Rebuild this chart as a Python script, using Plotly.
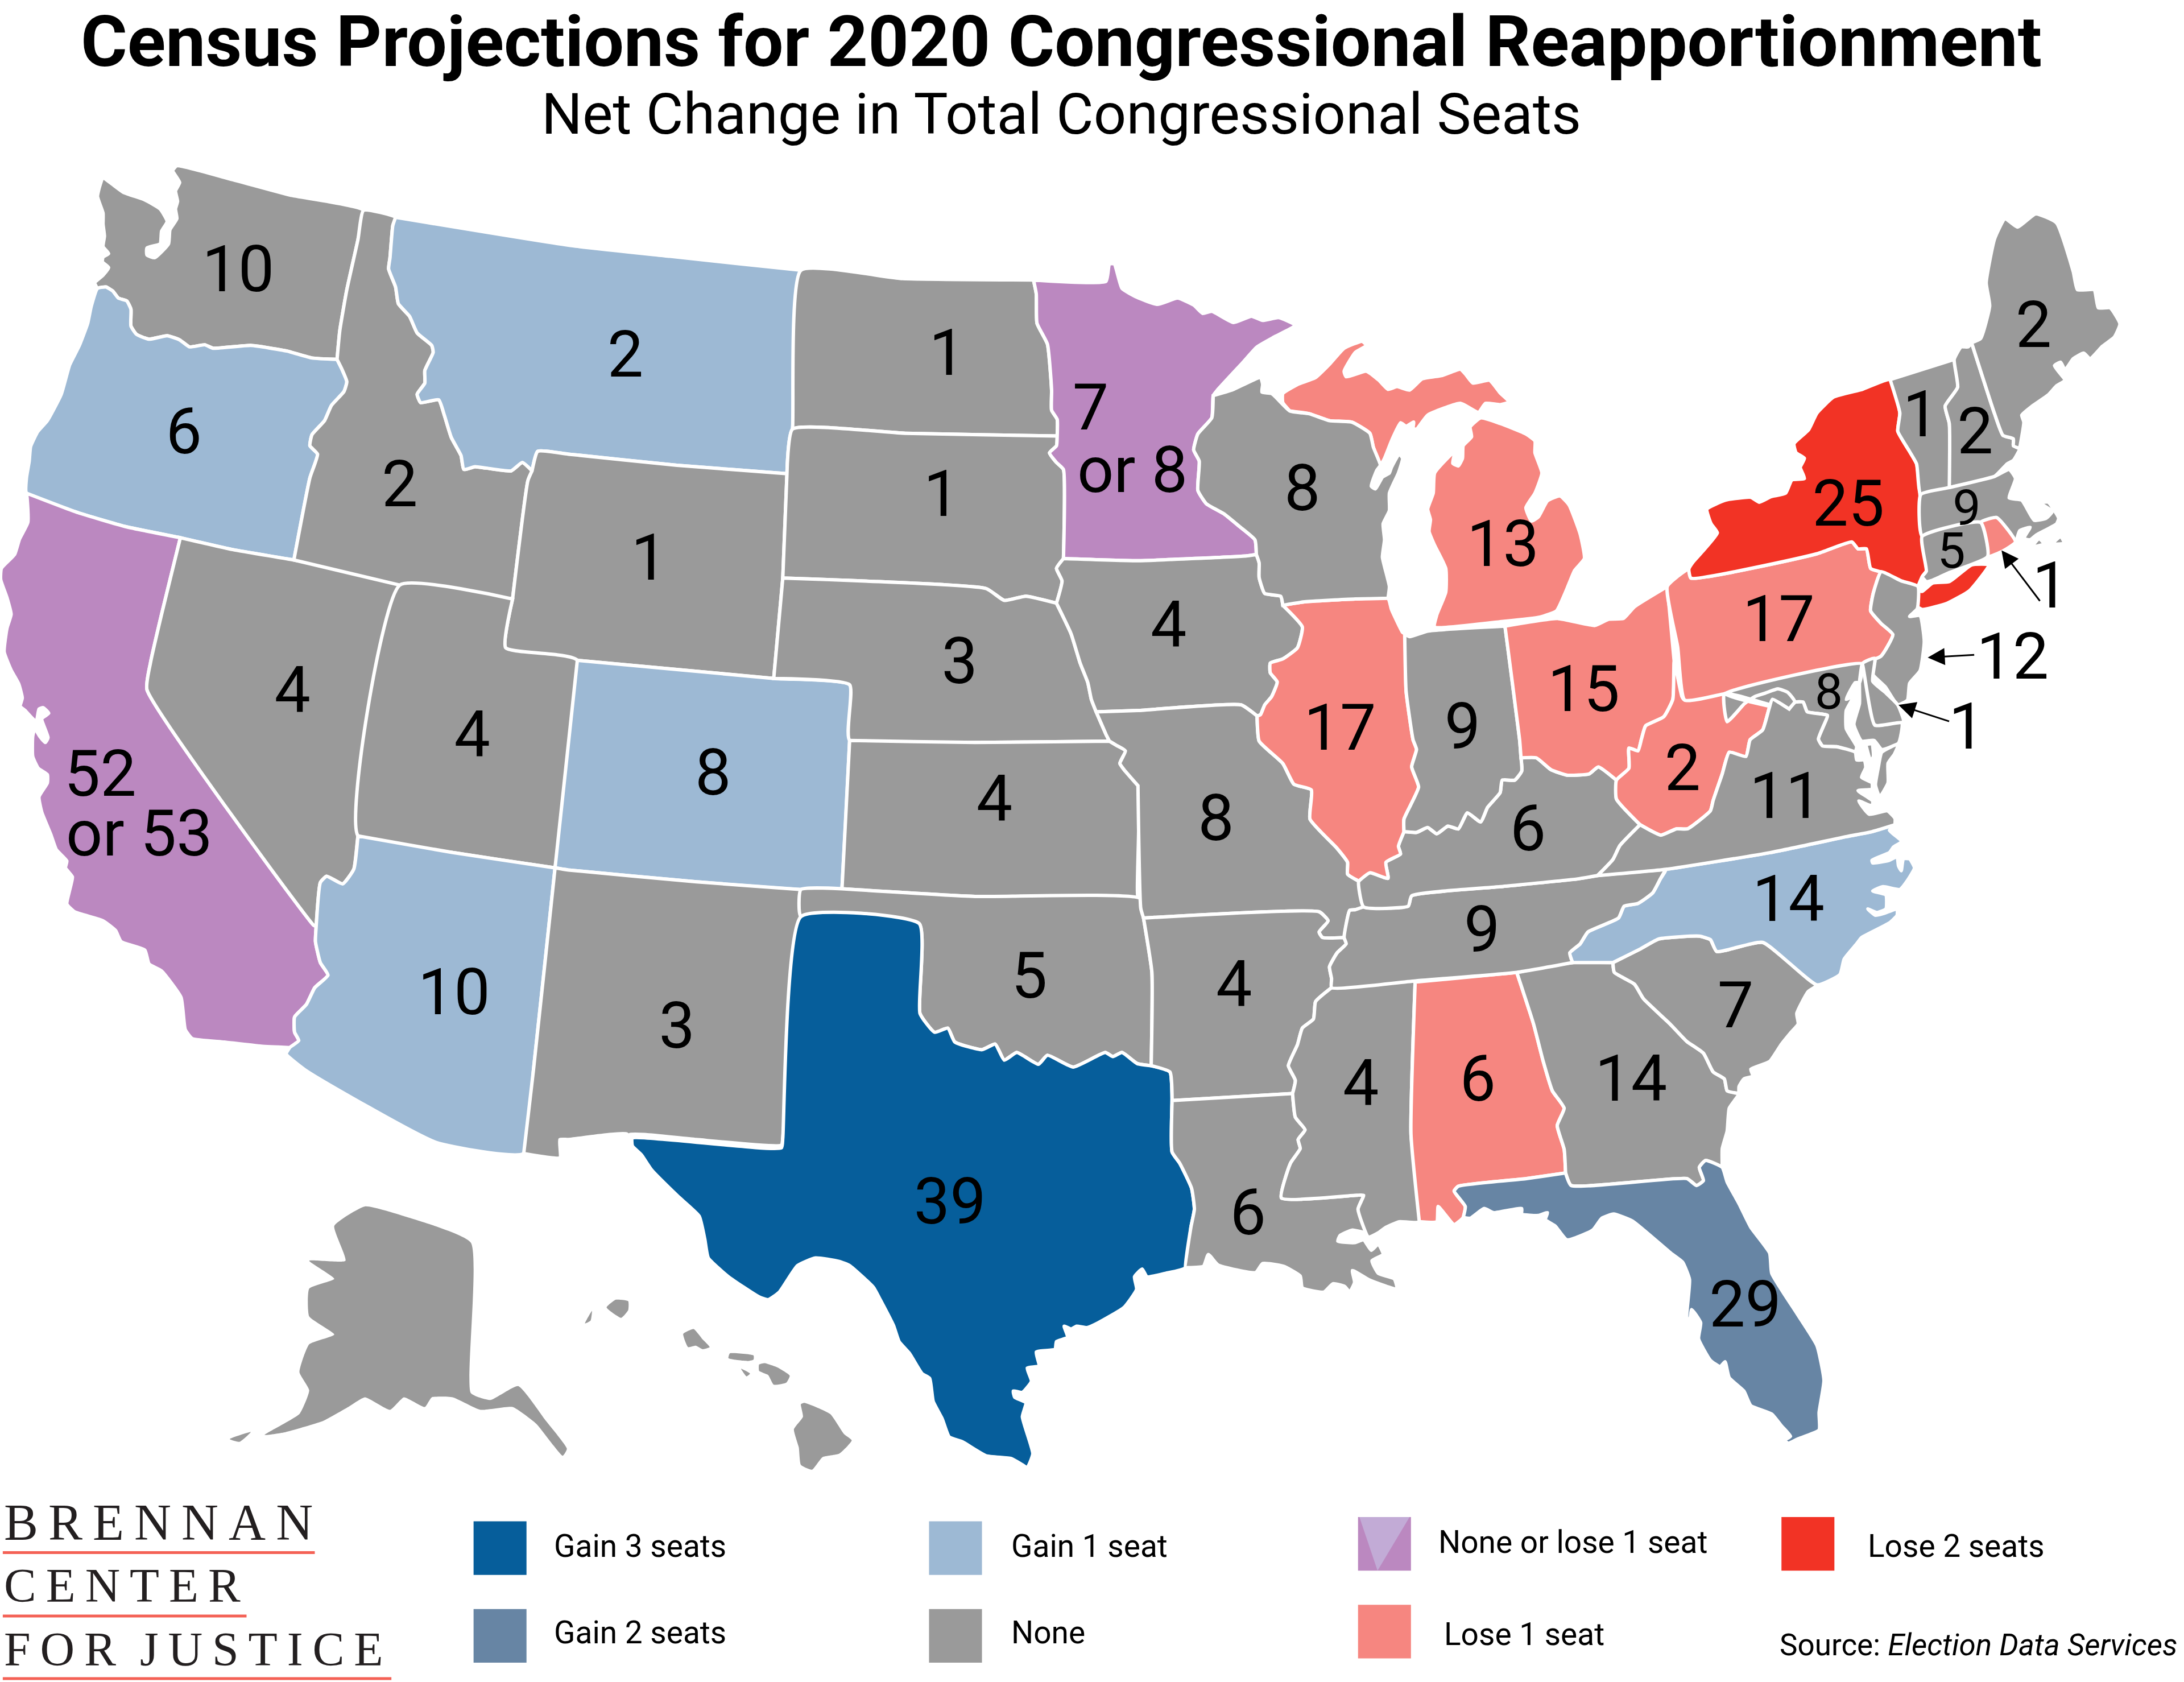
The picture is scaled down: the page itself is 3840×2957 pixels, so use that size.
import plotly.graph_objects as go

# ---------- data ----------
TITLE = "Census Projections for 2020 Congressional Reapportionment"
SUBTITLE = "Net Change in Total Congressional Seats"
CHANGE_NAMES = ["Gain 3 seats", "Gain 2 seats", "Gain 1 seat", "None", "None or lose 1 seat", "Lose 1 seat", "Lose 2 seats"]
CHANGE_COLORS = ["#065E9B", "#6785A4", "#9DB9D4", "#9A9A9A", "#BB88C0", "#F68680", "#F23325"]
GAIN3 = ["TX"]
GAIN2 = ["FL"]
GAIN1 = ["OR", "MT", "CO", "AZ", "NC"]
LOSE_MAYBE = ["CA", "MN"]
LOSE1 = ["MI", "IL", "OH", "WV", "PA", "AL", "RI"]
LOSE2 = ["NY"]

SEAT_TEXT = ["10", "6", "52", "or 53", "4", "2", "2", "1", "4", "10", "8", "3", "1", "1", "3", "4", "5", "39", "7", "or 8",
             "4", "8", "4", "6", "8", "17", "9", "13", "15", "6", "9", "4", "6", "14", "29", "7", "14", "11", "2", "17",
             "25", "2", "1", "2", "9", "5", "8", "1", "12", "1"]
SEAT_X = [171, 132, 72, 100, 210, 287, 449, 466, 339, 326, 512, 486, 680, 676, 689, 714, 739, 682, 783, 813,
          839, 873, 886, 896, 935, 962, 1050, 1079, 1137, 1097, 1064, 977, 1061, 1171, 1253, 1246, 1284, 1282, 1208, 1277,
          1327, 1460, 1379, 1418, 1412, 1401, 1313, 1472, 1445, 1412]
SEAT_Y = [194, 310, 556, 599, 496, 348, 255, 401, 528, 713, 555, 737, 254, 355, 475, 574, 701, 863, 293, 338,
          449, 588, 707, 871, 351, 523, 522, 391, 495, 595, 668, 778, 775, 775, 937, 722, 646, 572, 552, 445,
          362, 234, 298, 310, 364, 395, 496, 421, 472, 522]
SEAT_SIZE = [113] * 44 + [88, 88, 88] + [113, 113, 113]

# shared borders
WA_OR = [(70,207),(76,206),(81,209),(85,214),(91,216),(94,222),(94,234),(98,240),(107,243.5),(120,241),(129,244),(136,249),(147,247.5),(153,250),(180,248),(206,252),(224,257),(242,258)]
WA_ID = [(261,151),(257,172),(249,208),(244,237),(242,258)]
OR_ID = [(242,258),(245,264),(249,274),(247,281),(238,291),(233,302),(224,312),(222.5,320),(228,326),(222.5,343),(211,402)]
ID_MT = [(284,156),(282,162),(280,185),(279,193),(284,206),(286,218),(294,227),(299.5,239),(310,248),(311,253),(305,266),(305,275),(299.5,283),(302,289),(315,287),(319,298),(324,314),(331,327),(333,337),(341,335),(349,336),(367,338),(375,332),(382,338)]
ID_WY = [(382,338),(379,345),(368,430)]
CA_COAST = [(19,354),(19.5,358),(20,375),(14,387),(10.5,398),(1,408),(0.5,416),(5,429),(8,441),(5,451),(3,468),(8,481),(13.5,491),(16,501),(14.5,507),(18,510),(26,518),(28,509),(31,508),(35,512),(30,516),(34.5,529.5),(32.5,533),(28.5,528.5),(25,523),(23.5,528.5),(23.5,543),(27.5,551.5),(34,556),(34,562),(28,572),(30,583),(36.5,599),(40.5,610),(48,618),(47,623),(52,629.5),(50,639),(48,649),(53.5,654.5),(74,661),(83,668),(87,676),(104,682),(107,692),(116,697),(130,716),(133,739),(138,745.5),(161,748),(187.5,751),(208,752)]
AZ_CA = [(227,665),(226.5,676),(230,691),(235.5,700),(226,709),(220,721),(211.5,730),(211.5,741),(214.5,747),(208,752)]
AZ_NV = [(257,600),(254,624),(246,634.5),(234.5,629),(230,633.5),(227,665)]
CA_NV = [(129.5,386),(116,441),(108,476),(105.5,495),(225,664),(227,665)]
OR_CA = [(19,354),(56,368),(90,378),(129.5,386),(167,394.5),(211,402)]
NV_ID = [(211,402),(287,420)]
UT_ID = [(287,420),(368,430)]
WY_UT = [(368,430),(363,465),(414.5,474)]
MT_S = [(382,338),(386,324),(408,326),(486,334),(565,340)]
MT_ND = [(575,194),(569,308),(565,340)]
WY_SD = [(565,340),(562,415)]
WY_NE = [(562,415),(555.5,487)]
WY_CO = [(414.5,474),(555.5,487)]
ND_MN = [(742,201),(744,211),(744.5,232),(752,247),(755,280),(755,294.5),(759,301),(759,313)]
SD_MN = [(759,313),(758.5,320),(753.5,325),(758.5,332),(763.5,337),(763.5,401)]
ND_SD = [(569,308),(650,311),(759,313)]
SD_IA = [(763.5,401),(758.5,408),(762.5,417),(758.5,433)]
SD_NE = [(562,415),(708,422.5),(721,431),(736.5,428),(758.5,433)]
NE_IA = [(758.5,433),(769,455),(775.5,476),(781,490),(783.5,502),(787,511)]
NE_MO = [(787,511),(794,527),(796.5,532)]
NE_KS = [(610,531.5),(700,533),(796.5,532)]
KS_MO = [(796.5,532),(801.5,535),(808,539),(804,548),(807,552.5),(817,564)]
MO_W = [(817,564),(819,652),(821,659)]
KS_OK = [(604.5,638),(700,643.5),(819,645)]
CO_E = [(610,491.5),(610,531.5),(604.5,638)]
CO_S = [(398.5,623),(408,624.5),(500,633),(575,638.5),(604.5,638)]
AZ_UT = [(257,600),(325,612),(398.5,623)]
UT_CO = [(414.5,474),(398.5,623)]
AZ_NM = [(398.5,623),(383,768),(376,828)]
OK_TX = [(575,658),(660,663),(660.5,727.5),(671,741),(680.5,738),(685.5,748),(705,753.5),(714.5,749.5),(721,761),(730,755.5),(745.5,764),(752,757.5),(770.5,766),(793.5,755.5),(799,758.5),(805.5,755.5),(816.5,763.5),(826.5,765)]
NM_TX = [(575,638.5),(576,650),(575,658),(562,817),(561,822),(500,818),(464,814.5),(452,814.5),(450,821)]
OK_AR = [(821,659),(827,698),(826.5,765)]
AR_TX = [(826.5,765),(840,769.5),(841.5,790)]
LA_TX = [(841.5,790),(841.5,827),(847,835),(855.5,853),(857.5,868),(855,881),(851,910)]
MO_AR = [(821,659),(947,654.5),(953.5,661),(947,669),(949.5,673),(965,673)]
MO_IL = [(902.5,514),(904,532),(921,548),(929,563),(941.5,567),(940.5,588),(960,609),(967.5,619),(967.5,627.5),(975.5,632.5)]
MO_KY_TN = [(975.5,632.5),(979,634),(979,651),(973,653),(969,653.5),(965,673)]
IA_MO = [(787,511),(817,510),(891,506),(902.5,514)]
IA_MN = [(763.5,401),(817,402.5),(895,399),(902,398)]
MN_WI = [(871,284),(870,300),(860,311.5),(857,323),(861,331),(860,352),(866,361.5),(879,369),(890,378),(901,387.5),(902,398)]
IA_WI = [(902,398),(904,404),(904,414.5),(908,426),(919.5,428),(921,434.5)]
IA_IL = [(921,434.5),(935,450),(931.5,465),(921,473),(912,476),(912,483),(917,489.5),(913,500),(908,506),(905,513),(902.5,514)]
WI_IL = [(921,434.5),(936.5,432),(973,430),(996.5,429.5)]
WI_MI = [(906,281.5),(913,282.5),(926,295),(940,297),(954.5,302),(970.5,303),(983.5,311),(986,321),(991,334)]
IL_IN = [(1008.5,455),(1009.5,496),(1014.5,531),(1017,538),(1013.5,550.5),(1018.5,565),(1008,588),(1008,597)]
KY_N = [(1008,597),(1017,597.5),(1025,594),(1031.5,598.5),(1039.5,593),(1047,595),(1053.5,583.5),(1063,590),(1068,579.5),(1077,569),(1078.5,560),(1087.5,560),(1092.5,553.5),(1092,544)]
IL_KY = [(1008,597),(1004,607.5),(1005.5,613),(995,619),(996.5,630.5),(983.5,626.5),(975.5,632.5)]
IN_OH = [(1080.5,449.5),(1091,531),(1092,544)]
OH_KY = [(1092,544),(1103,544),(1113.5,552.5),(1125.5,556.5),(1141,555.5),(1147.5,550.5),(1160.5,560)]
OH_WV = [(1160.5,560),(1169.5,551.5),(1169.5,537),(1176,539),(1178.5,530.5),(1181.5,521),(1194.5,514.5),(1201,502),(1202,475)]
OH_PA = [(1197,421),(1202,475)]
KY_WV = [(1160.5,560),(1160.5,573.5),(1177.5,592)]
KY_VA = [(1177.5,592),(1163,607),(1158,617),(1147,628.5)]
KY_TN = [(1147,628.5),(1132,631),(1077,636.5),(1013.5,643),(1011,650.5),(979,651)]
VA_WV = [(1177.5,592),(1192.5,599.5),(1203.5,595),(1211.5,595),(1228,582),(1230,574.5),(1236.5,555.5),(1241.5,540),(1253.5,543),(1256.5,531),(1265.5,524),(1270,509),(1272.5,502),(1284.5,509)]
MD_WV = [(1284.5,509),(1288.5,503.5),(1283.5,497),(1276.5,494.5),(1267.5,497.5),(1260,500),(1252.5,505),(1240,518),(1238,498)]
MD_VA = [(1284.5,509),(1289,504),(1294.5,504),(1297.5,511),(1307.5,512.5),(1312,513.5),(1305.5,530.5),(1308.5,535.5),(1318.5,536),(1332,540)]
PA_S = [(1209.5,502.5),(1238,498),(1337,476.5)]
NY_PA = [(1214,415),(1304.5,397.5),(1329.5,389),(1334,394),(1340,394),(1343,408),(1350.5,410.5)]
PA_NJ = [(1350.5,410.5),(1345,425.5),(1343,438.5),(1350.5,447.5),(1359,455.5),(1350.5,471),(1337,476.5)]
NY_NJ = [(1350.5,410.5),(1365,417),(1377,421)]
NY_VT = [(1357,272.5),(1364,296.5),(1362.5,309.5),(1370,322.5),(1376,333),(1378.5,356)]
NY_MA = [(1378.5,356),(1380,385)]
NY_CT = [(1380,385),(1383,410),(1380,414)]
VT_NH = [(1403,258),(1405.5,278),(1396.5,291.5),(1399.5,304),(1399.5,350)]
NH_ME = [(1415.5,246),(1432,297),(1438,312.5),(1445.5,315),(1445.5,320),(1450,322)]
VA_NC = [(1147,628.5),(1196,624),(1271,612),(1326,600.5),(1344,597),(1360.5,592)]
TN_NC = [(1129,691),(1127,684),(1134.5,677.5),(1140,669),(1162,659),(1166,650.5),(1176,648.5),(1186.5,641),(1192,631),(1196,624)]
TN_S = [(956,709),(1017,704),(1089,698),(1129,691),(1158,691)]
AR_TN = [(965,673),(966.5,677.5),(960,684),(954.5,694),(956,702.5),(956,709)]
AR_MS = [(956,709),(944.5,719),(943,731.5),(935,738),(931.5,750),(925,765),(930,775.5),(928,785)]
AR_LA = [(841.5,790),(928,785)]
LA_MS = [(928,785),(930,802),(937,811),(932,818),(933.5,824.5),(926.5,835),(920,860),(974,858),(979,858),(975,868),(982.5,885)]
MS_AL = [(1016,705),(1013,814),(1019,877)]
AL_GA = [(1089,698),(1101,735),(1108,762),(1114.5,783),(1123,795.5),(1118,808),(1123,825),(1124,842)]
AL_FL = [(1124,842),(1096,846),(1047,851.5),(1044,855),(1052,866),(1050.5,874)]
GA_FL = [(1124,842),(1128,851),(1211,846),(1218,851),(1223,847.5),(1220,838),(1224.5,833),(1236.5,838)]
NC_SC = [(1158,691),(1178,681),(1191,674),(1220,672),(1228,674.5),(1232.5,683),(1265.5,676.5),(1304.5,707)]
GA_SC = [(1158,691),(1159,698),(1173.5,706.5),(1180,717),(1199,735),(1211,747.5),(1223,756),(1230,769.5),(1238,774.5),(1240,783),(1248.5,785)]

def rev(seg):
    return seg[::-1]

WA = [(74,128),(88.5,138),(104,143.5),(115,150),(120,159),(116,166),(115,175),(105.5,178),(105.5,183),(111,185),(121,175),(122,165),(127,157),(126,150),(127.5,144.5),(126,137),(129,131),(124,122.5),(127,119),(167,129),(208,140)] + WA_ID + rev(WA_OR) + [(69,205.5),(68,203),(74,197.5),(78,192),(73.5,188),(74,184.5),(78,182),(74,177),(75,169.5),(74,161),(74,153),(70,141),(71.5,134)]
OR = WA_OR + OR_ID + rev(OR_CA) + [(19,343),(21,331),(22,320.5),(27,310),(34,302),(44,283),(50,262),(57,248),(63,232),(65.5,220)]
CA = OR_CA[:4] + CA_NV + AZ_CA[:-1] + [(208,752)] + rev(CA_COAST)
NV = OR_CA[3:] + NV_ID + [(285,441)] + AZ_NV + rev(CA_NV)
ID = WA_ID[:1] + ID_MT + ID_WY + rev(UT_ID) + rev(NV_ID) + rev(OR_ID) + rev(WA_ID)[:-1]
MT = [(284,156),(408,176),(481,184),(575,194)] + MT_ND + rev(MT_S) + rev(ID_MT)
WY = MT_S + WY_SD + WY_NE + rev(WY_CO) + rev(WY_UT) + rev(ID_WY)
UT = UT_ID + WY_UT + UT_CO[1:] + rev(AZ_UT)
CO = WY_CO + CO_E + rev(CO_S) + rev(UT_CO)
AZ = AZ_UT + AZ_NM + [(313,820),(219,768),(205.5,756.5)] + rev(AZ_CA) + rev(AZ_NV)
NM = CO_S[:4] + NM_TX + [(450,814),(408,818),(402,818),(402,831),(376,828)] + rev(AZ_NM)
ND = [(575,194),(648,200),(742,201)] + ND_MN + rev(ND_SD) + rev(MT_ND)[:-1]
SD = ND_SD + SD_MN + SD_IA + rev(SD_NE) + rev(WY_SD) + [(565,340)]
NE = SD_NE + NE_IA + NE_MO + rev(NE_KS) + [(610,491.5),(555.5,487)] + rev(WY_NE)
KS = NE_KS + KS_MO + [(817,645)] + rev(KS_OK) + rev(CO_E)[:2]
OK = [(575,638.5),(604.5,638)] + KS_OK + OK_AR + rev(OK_TX)
TX = OK_TX + AR_TX + LA_TX + [(837,914),(823.5,916.5),(820,911),(814.5,916.5),(816,925.5),(807,938.5),(788.5,949.5),(780.5,953),(773,952),(769,954),(764,952),(766.5,960),(758.5,963),(757.5,968.5),(744,970.5),(746,980.5),(737.5,982),(740.5,991.5),(734,999.5),(727.5,998.5),(728.5,1003),(736.5,1007),(734,1017),(741.5,1043.5),(737.5,1053.5),(734,1051.5),(726,1047),(708,1045),(691,1035),(681.5,1031.5),(676.5,1018.5),(670,1006),(667.5,989.5),(662,986),(653,971.5),(645.5,963),(641.5,951.5),(632,933),(627,924),(610,908.5),(602.5,905.5),(585.5,903),(572.5,908.5),(559.5,927.5),(551.5,933),(545,931),(523,916.5),(508.5,903),(506,889.5),(502,873),(486.5,858.5),(468,840),(460.5,829),(454,822.5),(454,817),(561,824),(562,817)]
MN = [(742,201),(794,202),(796.5,189.5),(800,189.5),(805.5,207),(816.5,213.5),(831,218.5),(845.5,214),(857,219),(863.5,225),(870,223.5),(885.5,231.5),(898.5,227),(906.5,230),(918,228),(930,233.5),(915.5,241.5),(902.5,249),(892,260.5),(874,280)] + MN_WI + rev(IA_MN) + rev(SD_MN) + rev(ND_MN)
IA = IA_MN + IA_WI + IA_IL + rev(IA_MO) + rev(NE_IA) + rev(SD_IA)
MO = IA_MO + MO_IL + MO_KY_TN + rev(MO_AR) + rev(MO_W) + rev(KS_MO) + rev(NE_MO)
AR = MO_AR + AR_TN + AR_MS + rev(AR_LA) + rev(AR_TX) + rev(OK_AR)
LA = AR_LA + LA_MS + [(971,883),(962,887),(960.5,891),(972.5,892),(979,890),(984.5,897.5),(989.5,893),(993,900.5),(985,905),(989.5,914),(1001,918),(1003,925.5),(993,922.5),(982.5,918.5),(971,912),(972.5,920.5),(969,927.5),(965.5,923.5),(957,921.5),(950.5,927.5),(935,924.5),(933.5,916),(921.5,909),(906.5,907),(901.5,913.5),(874.5,908),(867.5,900.5),(864,909),(852,910)] + rev(LA_TX)
MS = TN_S[:2] + [(1016,705)] + MS_AL + [(1004.5,877),(995,881),(989.5,885),(982.5,888)] + rev(LA_MS)[1:] + rev(AR_MS)
AL = [(1016,705),(1089,698)] + AL_GA + AL_FL + [(1044,879),(1036.5,870.5),(1032.5,866),(1031.5,877),(1019,877)] + rev(MS_AL)
GA = [(1089,698),(1129,691),(1158,691)] + GA_SC + [(1241.5,795.5),(1240,812),(1236.5,824.5),(1236.5,838)] + rev(GA_FL) + rev(AL_GA)
FL = GA_FL + [(1240,848.5),(1248.5,864),(1257,881),(1270.5,899.5),(1272,914),(1290.5,943.5),(1304.5,966),(1309.5,991),(1306,1014),(1306,1026.5),(1290.5,1033),(1284,1036),(1281,1034),(1285.5,1031),(1279,1023.5),(1272,1015),(1257,1009),(1252,998.5),(1241.5,989),(1238.5,977.5),(1235,981),(1228,976.5),(1219.5,961),(1221,949.5),(1214.5,940),(1213,949.5),(1211,945.5),(1213,918.5),(1208,906),(1199.5,899.5),(1172,876.5),(1158.5,871.5),(1150,874.5),(1143.5,883),(1125,890),(1116.5,880),(1109.5,875.5),(1111,870.5),(1104.5,872.5),(1092.5,871.5),(1092.5,867.5),(1072.5,870.5),(1065.5,867.5),(1055.5,874.5),(1050.5,874)] + rev(AL_FL)
SC = NC_SC + [(1298,712),(1290,727.5),(1291,735),(1285.5,741.5),(1279,749.5),(1270.5,762),(1257,767.5),(1258.5,772.5),(1252,774.5),(1248.5,780),(1248.5,785)] + rev(GA_SC)
NC = rev(TN_NC) + TN_S[3:] + NC_SC + [(1321,699.5),(1324,688.5),(1333,677.5),(1336.5,673),(1356.5,662.5),(1362,657),(1362,652.5),(1353,655.5),(1346.5,657),(1341,652.5),(1347.5,655),(1354,652.5),(1354,642.5),(1344.5,639.5),(1352,636.5),(1364,638.5),(1369.5,632),(1374.5,623),(1371,616.5),(1366.5,616.5),(1365,625),(1363,621.5),(1362,615),(1356.5,617.5),(1344.5,619.5),(1344,617.5),(1356.5,612),(1359.5,608),(1365.5,604),(1356.5,596)] + rev(VA_NC)
TN = [(979,651),(1011,650.5),(1013.5,643),(1077,636.5),(1132,631),(1147,628.5),(1196,624)] + rev(TN_NC) + rev(TN_S)[1:] + rev(AR_TN)[1:] + [(969,653.5),(973,653)]
KY = KY_N + OH_KY + KY_WV + KY_VA + KY_TN + rev(IL_KY)
IL = [(921,434.5),(936.5,432),(973,430),(996.5,429.5),(999,437.5),(1007,454)] + IL_IN + IL_KY + rev(MO_IL) + rev(IA_IL)
IN = [(1008.5,455),(1012,457),(1025,453),(1080.5,449.5)] + IN_OH + rev(KY_N) + rev(IL_IN)
OH = [(1080.5,449.5),(1118.5,444),(1145,449),(1155,444.5),(1165.5,444),(1173.5,435.5),(1197,421)] + OH_PA + rev(OH_WV) + rev(OH_KY) + rev(IN_OH)
WV = [(1202,475),(1207.5,500),(1209.5,502.5),(1238,498)] + rev(MD_WV) + rev(VA_WV) + rev(KY_WV) + OH_WV[1:-1]
PA = [(1197,421),(1212.5,408.5)] + NY_PA + PA_NJ + rev(PA_S) + [(1204.5,464.5)]
NY_MAIN = rev(NY_PA) + [(1212.5,408.5),(1215.5,403.5),(1224,394),(1233,382.5),(1228.5,376),(1225.5,365.5),(1239,359),(1257,357),(1263,360.5),(1271.5,356.5),(1282,354),(1286.5,344.5),(1295.5,343.5),(1292.5,335.5),(1295.5,329),(1289.5,325),(1288,318.5),(1298.5,308.5),(1304.5,296.5),(1316.5,285),(1337,279.5)] + NY_VT + NY_MA + NY_CT + [(1377,421)] + rev(NY_NJ)
LONG_ISLAND = [(1380,424.5),(1387.5,418.5),(1399.5,417.5),(1415.5,405.5),(1428,405.5),(1414,424),(1398,433),(1380,437.5),(1376,435),(1376,424)]
NJ = NY_NJ + [(1376.5,437),(1371,442.5),(1378.5,442),(1381.5,460.5),(1378.5,481.5),(1371,490.5),(1369.5,502.5),(1362.5,506),(1353.5,493),(1344.5,484),(1346,473.5),(1337,476.5)] + rev(PA_NJ)[1:-1]
DE = [(1337,476.5),(1346,472.5),(1344.5,489),(1353.5,497),(1362.5,506),(1366.5,518),(1346,520.5)]
MD_MAIN = rev(MD_WV) + [(1238,498),(1337,476.5),(1335,490),(1332,490),(1325.5,502),(1331,499.5),(1325.5,510),(1325.5,523),(1333,536),(1332,540)] + rev(MD_VA)
MD_SHORE = [(1337,476.5),(1346,520.5),(1365.5,519),(1363,533.5),(1351,538),(1345.5,531.5),(1336.5,532),(1331,520),(1335,505),(1335,490)]
VA_MAIN = [(1147,628.5),(1158,617),(1163,607),(1177.5,592)] + VA_WV + MD_VA + [(1333,545.5),(1338.5,545.5),(1339.5,551),(1336.5,558),(1344,562),(1344,566.5),(1334,567.5),(1344.5,575),(1344,578.5),(1334.5,575),(1342,584.5),(1355,582),(1360.5,587.5),(1360.5,592)] + rev(VA_NC)
VA_SHORE = [(1363,534),(1360,541.5),(1355.5,548),(1355.5,562),(1349.5,572),(1346.5,563.5),(1348.5,551),(1351,540)]
VA_ISLE = [(1340,534.5),(1344,534),(1345,543),(1343,546)]
VT = [(1357,272.5),(1403,258)] + VT_NH + [(1379,355)] + rev(NY_VT)[1:]
NH = [(1408,249),(1413,249),(1415.5,246)] + NH_ME + [(1445.5,330.5),(1441,333),(1432,342),(1399.5,350)] + rev(VT_NH)
ME = [(1415.5,246),(1422,243),(1428.5,219.5),(1426,203),(1432,171.5),(1439.5,157),(1448.5,163),(1461.5,153.5),(1476.5,160),(1488.5,195),(1491.5,208),(1503.5,208),(1506.5,221),(1515,221),(1522,232.5),(1518,242),(1509.5,248.5),(1500.5,257.5),(1496,253.5),(1488.5,257.5),(1482.5,265.5),(1479.5,260),(1475,262.5),(1482.5,273),(1476.5,277),(1470.5,283.5),(1459,291.5),(1451.5,298),(1453,303),(1450,322)] + rev(NH_ME)
MA = [(1379,355),(1399.5,350),(1432,342),(1442.5,337),(1447,343.5),(1442.5,357.5),(1451.5,359),(1460.5,373.5),(1469,372),(1473.5,367),(1464.5,361),(1470.5,360.5),(1478,372),(1476.5,376),(1462,384),(1457.5,387.5),(1453,386.5),(1457.5,378.5),(1450,381),(1447,389),(1433.5,371.5),(1422,375),(1380,385)]
MA_ISLE1 = [(1459,392.5),(1464,386.5),(1467.5,390.5)]
MA_ISLE2 = [(1473.5,390.5),(1479.5,385),(1482,390)]
RI = [(1422,375),(1433.5,371.5),(1447,389),(1438,395.5),(1427,399.5)]
CT = [(1380,385),(1422,375),(1427,399.5),(1399.5,411),(1387.5,416.5),(1383,417.5),(1380,414),(1383,410)]
MI_UP = [(921,282.5),(931.5,276),(944.5,271),(954.5,261.5),(965,250),(978,245),(981,248),(973,253),(965,266.5),(966.5,270.5),(981,266.5),(990,273),(996.5,279.5),(1003,277.5),(1012,280),(1021,272),(1035.5,269.5),(1048.5,265),(1052.5,269),(1057.5,275),(1069.5,273),(1077,282),(1083.5,288.5),(1077,290.5),(1066.5,289.5),(1061.5,296),(1048.5,289.5),(1025,298),(1017,308),(1014.5,307.5),(1015,303),(1009.5,306),(1005.5,303.5),(999,316.5),(994,329),(991,334)] + rev(WI_MI)[1:-2] + [(926,295),(921,289)]
MI_LP = [(1063,300),(1077,304),(1095.5,311.5),(1102,316.5),(1102,325),(1107,339.5),(1102,354),(1095.5,364.5),(1099.5,374),(1104.5,371),(1111,359.5),(1120,356),(1126.5,362.5),(1134.5,383.5),(1137.5,401),(1130.5,409.5),(1124,425),(1117.5,438.5),(1105.5,443),(1080,446),(1030,450),(1031.5,441.5),(1038,425),(1038,408),(1030,391.5),(1026,381.5),(1027,373),(1025,365.5),(1029,354),(1030,339.5),(1044.5,324),(1043,332.5),(1047,334.5),(1050,329),(1050.5,320),(1056.5,313.5),(1055.5,306.5)]
WI = [(871,284),(884.5,280),(905,271),(906.5,276)] + WI_MI + [(988.5,337.5),(984.5,349),(987.5,351),(992.5,342.5),(997.5,339.5),(999,335.5),(1004.5,326),(1007,329),(1004,339.5),(997.5,354),(997.5,366.5),(993,376),(994,387.5),(992.5,400),(997.5,421),(996.5,429.5)] + rev(WI_IL) + rev(IA_WI) + rev(MN_WI)
AK = [(240,880),(262,866),(290,873),(338,892),(338,1000),(352,1005),(372,995),(392,1020),(407,1040),(404,1045),(385,1022),(368,1010),(345,1012),(325,1003),(310,1003),(305,1010),(290,1003),(280,1012),(262,1003),(250,1010),(232,1020),(205,1028),(190,1030),(215,1015),(222,998),(215,985),(222,965),(240,958),(222,945),(222,925),(240,918),(222,905),(248,905)]
AK_ISLE = [(165,1033),(180,1028),(172,1035)]
HI_NIIHAU = [(420,950),(425,941),(424,948)]
HI_KAUAI = [(435.5,938.5),(442,933),(451,934),(451,940.5),(446,946)]
HI_OAHU = [(490.5,957.5),(498,954),(504.5,961.5),(509.5,967),(504.5,968.5),(499.5,966),(494,967)]
HI_MOLOKAI = [(524,971.5),(541,973),(541,976),(537,977),(523,975)]
HI_LANAI = [(532,982.5),(538.5,986),(536,988)]
HI_MAUI = [(545,979.5),(549,978.5),(558,981.5),(567,987.5),(564.5,992.5),(555.5,994),(551.5,987),(545,984)]
HI_BIG = [(575,1008),(577.5,1007),(596,1015),(606,1029.5),(611.5,1034),(602.5,1043.5),(590.5,1046),(583,1055),(575,1051.5),(573.5,1039),(570,1026),(576.5,1017)]

STATE_RINGS = {
    "WA": [WA], "OR": [OR], "CA": [CA], "NV": [NV], "ID": [ID], "MT": [MT], "WY": [WY], "UT": [UT], "CO": [CO], "AZ": [AZ], "NM": [NM],
    "ND": [ND], "SD": [SD], "NE": [NE], "KS": [KS], "OK": [OK], "TX": [TX], "MN": [MN], "IA": [IA], "MO": [MO], "AR": [AR], "LA": [LA],
    "MS": [MS], "AL": [AL], "GA": [GA], "FL": [FL], "SC": [SC], "NC": [NC], "TN": [TN], "KY": [KY], "IL": [IL], "IN": [IN], "OH": [OH],
    "WV": [WV], "PA": [PA], "NY": [NY_MAIN, LONG_ISLAND], "NJ": [NJ], "DE": [DE], "MD": [MD_MAIN, MD_SHORE], "VA": [VA_MAIN, VA_SHORE, VA_ISLE],
    "VT": [VT], "NH": [NH], "ME": [ME], "MA": [MA, MA_ISLE1, MA_ISLE2], "RI": [RI], "CT": [CT], "MI": [MI_UP, MI_LP], "WI": [WI],
    "AK": [AK, AK_ISLE], "HI": [HI_NIIHAU, HI_KAUAI, HI_OAHU, HI_MOLOKAI, HI_LANAI, HI_MAUI, HI_BIG],
}

SWATCH_X = [340, 340, 667, 667, 975, 975, 1279]
SWATCH_Y = [1092, 1155, 1092, 1155, 1089, 1152, 1089]
LEGEND_X = [397, 397, 725, 725, 1032, 1036, 1340]
LEGEND_Y = [1110, 1172, 1110, 1172, 1107, 1173, 1110]
ARROW_FROM = [(1465, 432), (1418, 470), (1400, 518)]
ARROW_TO = [(1437, 395), (1384, 472), (1363, 506)]
LOGO_LINES = ["B\u2009R\u2009E\u2009N\u2009N\u2009A\u2009N", "C\u2009E\u2009N\u2009T\u2009E\u2009R", "F\u2009O\u2009R\u2002J\u2009U\u2009S\u2009T\u2009I\u2009C\u2009E"]
LOGO_Y = [1093, 1138, 1184]
LOGO_SIZE = [90, 85, 84]
LOGO_RULE_Y = [1114.5, 1160, 1205]
LOGO_RULE_END = [226, 177, 281]

# ---------- figure ----------
W, H = 3840, 2957
VIEW_W, VIEW_H = 1568, 1207.4
FONT = "Roboto"
SEAT_TEXT_DROP = 3.7   # the text's box centre sits above its digits

def color_of(st):
    if st in GAIN3: return CHANGE_COLORS[0]
    if st in GAIN2: return CHANGE_COLORS[1]
    if st in GAIN1: return CHANGE_COLORS[2]
    if st in LOSE_MAYBE: return CHANGE_COLORS[4]
    if st in LOSE1: return CHANGE_COLORS[5]
    if st in LOSE2: return CHANGE_COLORS[6]
    return CHANGE_COLORS[3]

fig = go.Figure()
for st, rings in STATE_RINGS.items():
    xs, ys = [], []
    for r in rings:
        xs += [p[0] for p in r] + [r[0][0], None]
        ys += [p[1] for p in r] + [r[0][1], None]
    island = st in ("AK", "HI")
    fig.add_trace(go.Scatter(x=xs, y=ys, mode="lines", fill="toself", fillcolor=color_of(st), name=st,
                             line=dict(color="white", width=0 if island else 6, shape="spline", smoothing=0.45), hoverinfo="name"))

fig.add_trace(go.Scatter(x=SEAT_X, y=[v + SEAT_TEXT_DROP for v in SEAT_Y], mode="text", text=SEAT_TEXT, textposition="middle center",
                         textfont=dict(family=FONT, size=SEAT_SIZE, color="black"), hoverinfo="skip"))

ann = []
def text(x, y, s, size, anchor="center", **kw):
    ann.append(dict(x=x, y=y, xref="x", yref="y", text=s, showarrow=False, xanchor=anchor, yanchor="middle",
                    font=dict(family=kw.get("family", FONT), size=size, color=kw.get("color", "black"))))

text(762, 30, f"<b>{TITLE}</b>", 125)
text(762, 82, SUBTITLE, 101)
for n, x, y in zip(CHANGE_NAMES, LEGEND_X, LEGEND_Y):
    text(x, y, n, 55, "left")
text(1277, 1181, "Source: <i>Election Data Services</i>", 53, "left")
for s, y, z in zip(LOGO_LINES, LOGO_Y, LOGO_SIZE):
    text(2, y, s, z, "left", family="Liberation Serif", color="#231F20")
for a, b in zip(ARROW_FROM, ARROW_TO):
    ann.append(dict(x=b[0], y=b[1], ax=a[0], ay=a[1], xref="x", yref="y", axref="x", ayref="y", text="", showarrow=True,
                    arrowhead=2, arrowsize=2, arrowwidth=3, arrowcolor="black"))

shapes = []
for x, y, c in zip(SWATCH_X, SWATCH_Y, CHANGE_COLORS):
    shapes.append(dict(type="rect", x0=x, x1=x + 38, y0=y, y1=y + 38.5, xref="x", yref="y", fillcolor=c, line_width=0, layer="below"))
shapes.append(dict(type="path", path="M 976,1089 L 1012,1089 L 989,1127.5 Z", xref="x", yref="y", fillcolor="#C2ABD6", line_width=0))
for y, e in zip(LOGO_RULE_Y, LOGO_RULE_END):
    shapes.append(dict(type="line", x0=2, x1=e, y0=y, y1=y, xref="x", yref="y", line=dict(color="#F46155", width=5)))

fig.update_layout(width=W, height=H, margin=dict(l=0, r=0, t=0, b=0), showlegend=False,
                  paper_bgcolor="white", plot_bgcolor="white", annotations=ann, shapes=shapes,
                  xaxis=dict(range=[0, VIEW_W], visible=False, fixedrange=True),
                  yaxis=dict(range=[VIEW_H, 0], visible=False, fixedrange=True))
fig.write_html("out.html", config={"displayModeBar": False}, post_script="document.body.style.margin='0';")
